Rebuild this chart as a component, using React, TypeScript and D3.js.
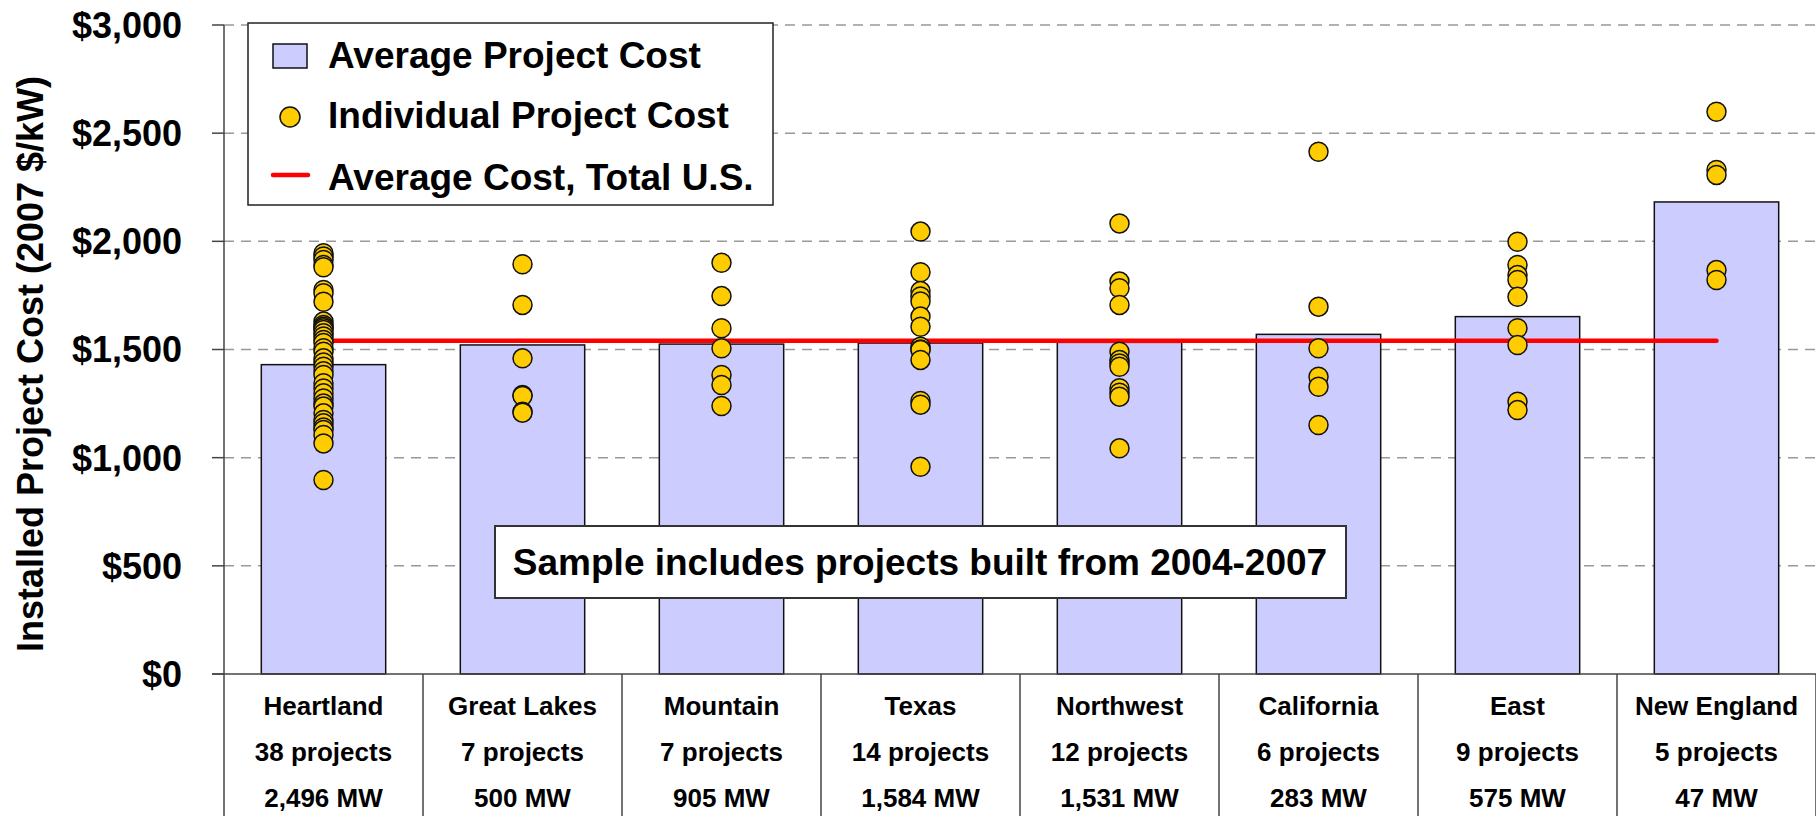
import React from "react";
import * as d3 from "d3";

const regions = ["Heartland", "Great Lakes", "Mountain", "Texas", "Northwest", "California", "East", "New England"];
const projectCounts = ["38 projects", "7 projects", "7 projects", "14 projects", "12 projects", "6 projects", "9 projects", "5 projects"];
const capacities = ["2,496 MW", "500 MW", "905 MW", "1,584 MW", "1,531 MW", "283 MW", "575 MW", "47 MW"];
const averageCost = [1430, 1521, 1525, 1530, 1533, 1570, 1652, 2182];
const totalUSAverage = 1540;

const heartlandCosts = [1945, 1930, 1914, 1891, 1880, 1775, 1760, 1721, 1629, 1613, 1605, 1598, 1590, 1575, 1560, 1544, 1530, 1506, 1490, 1459, 1440, 1420, 1400, 1382, 1344, 1320, 1298, 1274, 1250, 1236, 1205, 1174, 1159, 1140, 1128, 1105, 1066, 897];
const greatLakesCosts = [1894, 1706, 1459, 1290, 1285, 1212, 1208];
const mountainCosts = [1901, 1747, 1598, 1506, 1382, 1336, 1239];
const texasCosts = [2045, 1857, 1770, 1745, 1722, 1652, 1605, 1513, 1500, 1498, 1452, 1262, 1245, 958];
const northwestCosts = [2083, 1814, 1783, 1706, 1490, 1451, 1435, 1420, 1321, 1300, 1282, 1043];
const californiaCosts = [2414, 1698, 1506, 1374, 1328, 1151];
const eastCosts = [1998, 1891, 1844, 1821, 1744, 1598, 1521, 1259, 1220];
const newEnglandCosts = [2599, 2330, 2307, 1867, 1821];
const projectCosts = [heartlandCosts, greatLakesCosts, mountainCosts, texasCosts, northwestCosts, californiaCosts, eastCosts, newEnglandCosts];

const yTicks = [0, 500, 1000, 1500, 2000, 2500, 3000];

const W = 1816;
const H = 816;
const font = "'Liberation Sans', Arial, sans-serif";

export default function App() {
  const x = d3.scaleBand<string>().domain(regions).range([224, 1816]).paddingInner(0.375).paddingOuter(0.1875);
  const y = d3.scaleLinear().domain([0, 3000]).range([674, 25]);
  const bw = x.bandwidth();
  const step = x.step();
  const cx = (r: string) => (x(r) as number) + bw / 2;
  const fmt = (v: number) => "$" + d3.format(",")(v);

  return (
    <svg width={W} height={H} style={{ position: "absolute", left: 0, top: 0, background: "#fff" }} fontFamily={font} fontWeight="bold">
      {/* dashed gridlines */}
      {yTicks.filter((t) => t > 0).map((t) => (
        <line key={t} x1={224} x2={W} y1={y(t)} y2={y(t)} stroke="#999" strokeWidth={1.5} strokeDasharray="10 7" />
      ))}

      {/* bars */}
      {regions.map((r, i) => (
        <rect key={r} x={x(r)} y={y(averageCost[i])} width={bw} height={y(0) - y(averageCost[i])} fill="#ccccff" stroke="#111" strokeWidth={1.5} />
      ))}

      {/* total US average */}
      <line x1={cx(regions[0])} x2={cx(regions[regions.length - 1])} y1={y(totalUSAverage)} y2={y(totalUSAverage)} stroke="#ff0000" strokeWidth={4.5} strokeLinecap="round" />

      {/* individual projects */}
      {regions.map((r, i) =>
        projectCosts[i].map((v, j) => (
          <circle key={r + j} cx={cx(r)} cy={y(v)} r={9.5} fill="#ffcc00" stroke="#111" strokeWidth={1.5} />
        ))
      )}

      {/* axes */}
      <line x1={224} x2={224} y1={y(3000)} y2={H} stroke="#444" strokeWidth={1.5} />
      <line x1={212} x2={W} y1={y(0)} y2={y(0)} stroke="#444" strokeWidth={1.5} />
      {yTicks.map((t) => (
        <g key={t}>
          <line x1={212} x2={224} y1={y(t)} y2={y(t)} stroke="#444" strokeWidth={1.5} />
          <text x={182} y={y(t)} dy="0.36em" textAnchor="end" fontSize={36}>{fmt(t)}</text>
        </g>
      ))}
      <text transform={`translate(43,364) rotate(-90)`} textAnchor="middle" fontSize={36}>Installed Project Cost (2007 $/kW)</text>

      {/* category table */}
      {regions.map((r, i) => (
        <g key={r}>
          <line x1={224 + (i + 1) * step} x2={224 + (i + 1) * step} y1={y(0)} y2={H} stroke="#444" strokeWidth={1.5} />
          <text x={cx(r)} y={715} textAnchor="middle" fontSize={26}>{r}</text>
          <text x={cx(r)} y={761} textAnchor="middle" fontSize={26}>{projectCounts[i]}</text>
          <text x={cx(r)} y={807} textAnchor="middle" fontSize={26}>{capacities[i]}</text>
        </g>
      ))}

      {/* legend */}
      <rect x={248} y={23} width={525} height={182} fill="#fff" stroke="#222" strokeWidth={1.5} />
      <rect x={273} y={44} width={34} height={24} fill="#ccccff" stroke="#111" strokeWidth={1.5} />
      <text x={328} y={68} fontSize={37}>Average Project Cost</text>
      <circle cx={290} cy={117} r={10} fill="#ffcc00" stroke="#111" strokeWidth={1.5} />
      <text x={328} y={128} fontSize={37}>Individual Project Cost</text>
      <line x1={273} x2={308} y1={175} y2={175} stroke="#ff0000" strokeWidth={4.5} strokeLinecap="round" />
      <text x={328} y={190} fontSize={37}>Average Cost, Total U.S.</text>

      {/* annotation */}
      <rect x={495} y={526} width={851} height={72} fill="#fff" stroke="#333" strokeWidth={2} />
      <text x={920} y={575} textAnchor="middle" fontSize={37}>Sample includes projects built from 2004-2007</text>
    </svg>
  );
}
